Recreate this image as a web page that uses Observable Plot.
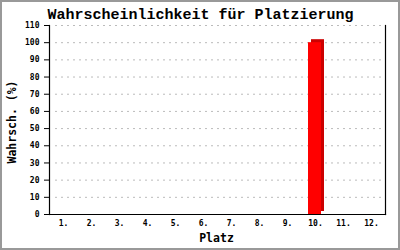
<!DOCTYPE html>
<html>
<head>
<meta charset="utf-8">
<script src="https://cdn.jsdelivr.net/npm/d3@7"></script>
<script src="https://cdn.jsdelivr.net/npm/@observablehq/plot@0.6"></script>
<style>
  body { margin: 0; background: #fff; }
  #wrap { position: relative; width: 400px; height: 250px; }
  #wrap::after { content: ""; position: absolute; inset: 0; border: 2px solid #999; pointer-events: none; }
</style>
</head>
<body>
<div id="wrap"></div>
<script>
// Placements and the probability (in %) of ending up in each one
const places = ["1.", "2.", "3.", "4.", "5.", "6.", "7.", "8.", "9.", "10.", "11.", "12."];
const probability = [0, 0, 0, 0, 0, 0, 0, 0, 0, 100, 0, 0];
const yTicks = [0, 10, 20, 30, 40, 50, 60, 70, 80, 90, 100, 110];

const titleText = "Wahrscheinlichkeit für Platzierung";
const xLabel = "Platz";
const yLabel = "Wahrsch. (%)";

const rows = places.map((p, i) => ({place: p, value: probability[i]}));
const bars = rows.filter(d => d.value > 0);

const mono = "'DejaVu Sans Mono', 'Liberation Mono', monospace";

const chart = Plot.plot({
  width: 400,
  height: 250,
  marginLeft: 49,
  marginRight: 15,
  marginTop: 25,
  marginBottom: 36,
  style: {fontFamily: mono, fontSize: "8px", fontWeight: "bold", background: "#fff", color: "#000"},
  x: {domain: places, type: "band", padding: 0, axis: null},
  y: {domain: [0, 110], axis: null},
  marks: [
    Plot.gridY(yTicks.filter(t => t > 0), {stroke: "#bbb", strokeOpacity: 1, strokeDasharray: "2,4", insetLeft: 6}),
    // shaded back face (side + top) of each bar
    Plot.barY(bars, {x: "place", y: "value", fill: "#cc0000", insetLeft: 7, insetRight: 8, dx: 3, dy: -3}),
    // front face
    Plot.barY(bars, {x: "place", y: "value", fill: "#ff0000", insetLeft: 7, insetRight: 8}),
    Plot.frame({anchor: "left", stroke: "#000", strokeWidth: 1.2}),
    Plot.frame({anchor: "bottom", stroke: "#000", strokeWidth: 1.2}),
    Plot.frame({anchor: "right", stroke: "#000", strokeWidth: 1.2}),
    Plot.axisY({ticks: yTicks, tickSize: 5, tickPadding: 5, label: null, stroke: "#000", fontSize: 8}),
    Plot.axisX({tickSize: 0, tickPadding: 6, label: null, fontSize: 8}),
    Plot.text([titleText], {frameAnchor: "top", lineAnchor: "middle", dy: -11, dx: -17, fontSize: 15, fontWeight: "bold", fontFamily: "'Liberation Mono', monospace", fill: "#000"}),
    Plot.text([xLabel], {frameAnchor: "bottom", lineAnchor: "middle", dy: 24, dx: -1, fontSize: 11.5, fontWeight: "bold", fill: "#000"}),
    Plot.text([yLabel], {frameAnchor: "left", textAnchor: "middle", lineAnchor: "middle", dx: -37, dy: 2, rotate: -90, fontSize: 11.5, fontWeight: "bold", fill: "#000"})
  ]
});

document.getElementById("wrap").append(chart);
</script>
</body>
</html>
